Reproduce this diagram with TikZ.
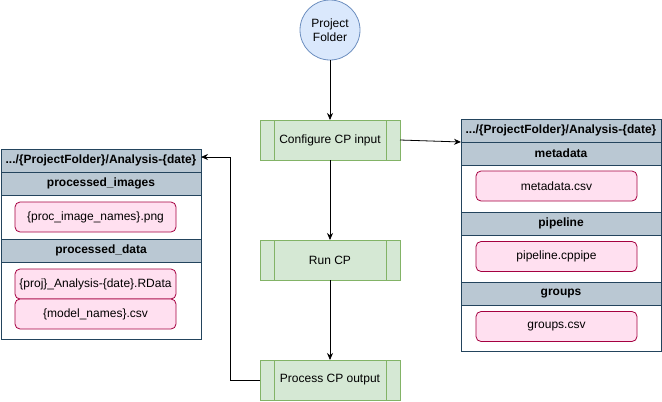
\documentclass[tikz,border=0pt]{standalone}
\usepackage{fontspec}
\setmainfont{Liberation Sans}
\usetikzlibrary{arrows.meta}
\definecolor{bluefill}{HTML}{DAE8FC}
\definecolor{bluedraw}{HTML}{6C8EBF}
\definecolor{greenfill}{HTML}{D5E8D4}
\definecolor{greendraw}{HTML}{82B366}
\definecolor{hdrfill}{HTML}{BAC8D3}
\definecolor{hdrdraw}{HTML}{23445D}
\definecolor{pinkfill}{HTML}{FFE0F0}
\definecolor{pinkdraw}{HTML}{A50040}
\begin{document}
\begin{tikzpicture}[x=1pt,y=-1pt,
  every node/.style={font=\fontsize{12}{14}\selectfont, inner sep=0pt, outer sep=0pt},
  startnode/.style={circle, fill=bluefill, draw=bluedraw, line width=0.8pt, minimum size=60pt, align=center},
  procbox/.style={rectangle, fill=greenfill, draw=greendraw, line width=0.8pt, minimum width=140pt, minimum height=40pt},
  hdr/.style={rectangle, fill=hdrfill, draw=hdrdraw, line width=0.8pt, minimum width=200pt, minimum height=23pt, font=\fontsize{12}{14}\selectfont\bfseries},
  body/.style={rectangle, fill=white, draw=hdrdraw, line width=0.8pt, minimum width=200pt},
  filebox/.style={rectangle, rounded corners=5pt, fill=pinkfill, draw=pinkdraw, line width=0.8pt, minimum width=161pt, minimum height=30pt},
  conn/.style={line width=0.8pt, -{Stealth[length=7pt,width=6pt]}},
  sub/.style={draw=greendraw, line width=0.8pt}
]
\useasboundingbox (0,0) rectangle (662,402);

% central flow
\node[startnode] (pf) at (330,30) {Project\\Folder};
\node[procbox] (conf) at (330,140) {Configure CP input};
\node[procbox] (run) at (330,260) {Run CP};
\node[procbox] (proc) at (330,380) {Process CP output};
\foreach \n in {conf,run,proc}{
  \draw[sub] ([xshift=14pt]\n.north west) -- ([xshift=14pt]\n.south west);
  \draw[sub] ([xshift=-14pt]\n.north east) -- ([xshift=-14pt]\n.south east);
}

% left panel
\node[hdr] (ltitle) at (101,160.5) {.../\{ProjectFolder\}/Analysis-\{date\}};
\node[hdr] (lh1) at (101,183.5) {processed\_images};
\node[body, minimum height=44pt] (lw1) at (101,217) {};
\node[filebox] (lp1) at (95.5,217) {\{proc\_image\_names\}.png};
\node[hdr] (lh2) at (101,250.5) {processed\_data};
\node[body, minimum height=77pt] (lw2) at (101,300.5) {};
\node[filebox] (lp2) at (95.5,284) {\{proj\}\_Analysis-\{date\}.RData};
\node[filebox] (lp3) at (95.5,314) {\{model\_names\}.csv};

% right panel
\node[hdr] (rtitle) at (561,130.5) {.../\{ProjectFolder\}/Analysis-\{date\}};
\node[hdr] (rh1) at (561,153.5) {metadata};
\node[body, minimum height=47pt] (rw1) at (561,188.5) {};
\node[filebox] (rp1) at (556.5,186) {metadata.csv};
\node[hdr] (rh2) at (561,223.5) {pipeline};
\node[body, minimum height=47pt] (rw2) at (561,258.5) {};
\node[filebox] (rp2) at (556.5,256.5) {pipeline.cppipe};
\node[hdr] (rh3) at (561,293.5) {groups};
\node[body, minimum height=46pt] (rw3) at (561,328) {};
\node[filebox] (rp3) at (556.5,326.5) {groups.csv};

% connectors
\draw[conn] (pf.south) -- (conf.north);
\draw[conn] (conf.south) -- (run.north);
\draw[conn] (run.south) -- (proc.north);
\draw[conn] (conf.east) -- (rtitle.south west);
\coordinate (back) at ([yshift=3.5pt]ltitle.east);
\draw[conn] (proc.west) -- ++(-30,0) |- (back);
\end{tikzpicture}
\end{document}
